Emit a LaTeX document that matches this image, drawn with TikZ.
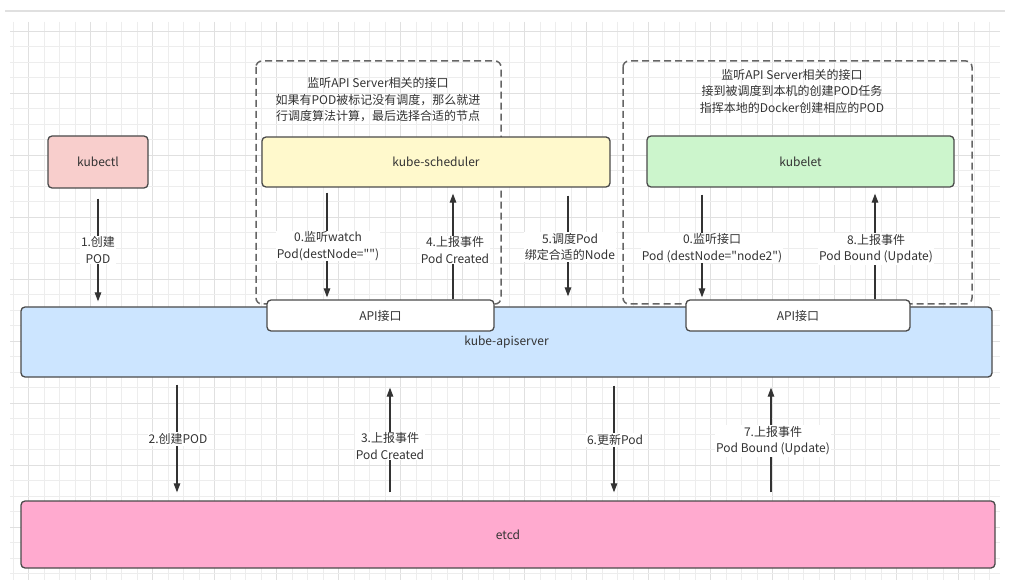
\documentclass[tikz,border=0pt]{standalone}
\usepackage{fontspec}
\setmainfont{Noto Sans CJK SC}
\newfontfamily\nqfont{Noto Sans CJK SC}
\usetikzlibrary{arrows.meta}
\definecolor{txt}{HTML}{333333}
\definecolor{edge}{HTML}{4A4A4A}
\definecolor{gridminor}{HTML}{EDEDED}
\definecolor{gridmajor}{HTML}{E0E0E0}
\definecolor{fkubectl}{HTML}{F8CECC}
\definecolor{fsched}{HTML}{FFF9CC}
\definecolor{fkubelet}{HTML}{CCF5CC}
\definecolor{fapi}{HTML}{CCE5FF}
\definecolor{fetcd}{HTML}{FFAACF}
\newcommand{\dq}{{\nqfont\symbol{34}}}
\tikzset{
  compbox/.style={draw=edge, line width=1.3pt, rounded corners=4pt, text=txt,
    font=\fontsize{12}{16}\selectfont, inner sep=0pt, anchor=center},
  grpbox/.style={draw=edge!85, line width=1.5pt, dash pattern=on 7pt off 4pt, rounded corners=6pt},
  arr/.style={draw=txt, line width=1.2pt, -{Triangle[length=9pt,width=6.5pt]}},
  lbl/.style={fill=white, text=txt, inner sep=1pt, align=center,
    font=\fontsize{12}{16.5}\selectfont},
  grptext/.style={text=txt, align=center, inner sep=0pt,
    font=\fontsize{12}{16.5}\selectfont}
}
\begin{document}
\begin{tikzpicture}[x=1pt,y=-1pt]
\useasboundingbox (0,0) rectangle (1010,588);
\fill[white] (0,0) rectangle (1010,588);
% top line
\draw[gridmajor, line width=1.5pt] (5,11) -- (1005,11);
% grid
\foreach \i in {0,...,63} {
  \pgfmathsetmacro{\gx}{13+15.5*\i}
  \pgfmathtruncatemacro{\m}{mod(\i,4)}
  \ifnum\m=1
    \draw[gridmajor, line width=0.8pt] (\gx,22) -- (\gx,580);
  \else
    \draw[gridminor, line width=0.8pt] (\gx,22) -- (\gx,580);
  \fi
}
\foreach \j in {0,...,35} {
  \pgfmathsetmacro{\gy}{31+15.5*\j}
  \pgfmathtruncatemacro{\m}{mod(\j,4)}
  \ifnum\m=0
    \draw[gridmajor, line width=0.8pt] (10,\gy) -- (1000,\gy);
  \else
    \draw[gridminor, line width=0.8pt] (10,\gy) -- (1000,\gy);
  \fi
}
% group boxes
\draw[grpbox] (256,61) rectangle (501,304);
\draw[grpbox] (623,61) rectangle (972,304);
\node[grptext] (gtl) at (378,100) {监听API Server相关的接口\\如果有POD被标记没有调度，那么就进\\行调度算法计算，最后选择合适的节点};
\node[grptext] (gtr) at (792,91) {监听API Server相关的接口\\接到被调度到本机的创建POD任务\\指挥本地的Docker创建相应的POD};
% components
\node[compbox, fill=fkubectl, minimum width=100pt, minimum height=52pt] (kubectl) at (98,162) {kubectl};
\node[compbox, fill=fsched, minimum width=348pt, minimum height=50pt] (sched) at (436,162) {kube-scheduler};
\node[compbox, fill=fkubelet, minimum width=307pt, minimum height=51pt] (kubelet) at (800.5,161.5) {kubelet};
\node[compbox, fill=fapi, minimum width=971pt, minimum height=70pt] (api) at (506.5,342) {kube-apiserver};
\node[compbox, fill=white, minimum width=227pt, minimum height=31pt] (apiL) at (380.5,315.5) {API接口};
\node[compbox, fill=white, minimum width=224pt, minimum height=31pt] (apiR) at (798,315.5) {API接口};
\node[compbox, fill=fetcd, minimum width=974pt, minimum height=67pt] (etcd) at (508,534.5) {etcd};
% arrows
\draw[arr, shorten <=10pt, shorten >=5pt] (kubectl.south) -- ([xshift=-408.5pt]api.north);
\draw[arr, shorten <=5pt, shorten >=2pt] ([xshift=-109pt]sched.south) -- ([xshift=-53.5pt]apiL.north);
\draw[arr, shorten >=6pt] ([xshift=72.5pt]apiL.north) -- ([xshift=17pt]sched.south);
\draw[arr, shorten <=8pt, shorten >=10pt] ([xshift=132pt]sched.south) -- ([xshift=61.5pt]api.north);
\draw[arr, shorten <=7pt, shorten >=2pt] ([xshift=-98.5pt]kubelet.south) -- ([xshift=-96pt]apiR.north);
\draw[arr, shorten >=6pt] ([xshift=77pt]apiR.north) -- ([xshift=74.5pt]kubelet.south);
\draw[arr, shorten <=7pt, shorten >=8pt] ([xshift=-329.5pt]api.south) -- ([xshift=-331pt]etcd.north);
\draw[arr, shorten <=8pt, shorten >=10pt] ([xshift=-118pt]etcd.north) -- ([xshift=-116.5pt]api.south);
\draw[arr, shorten <=8pt, shorten >=8pt] ([xshift=107.5pt]api.south) -- ([xshift=106pt]etcd.north);
\draw[arr, shorten <=8pt, shorten >=10pt] ([xshift=263pt]etcd.north) -- ([xshift=264.5pt]api.south);
% labels
\node[lbl] (l1) at (98,250) {1.创建\\POD};
\node[lbl] (l0s) at (328,246) {0.监听watch\\Pod(destNode=\dq\dq)};
\node[lbl] (l4) at (455,250) {4.上报事件\\Pod Created};
\node[lbl] (l5) at (570,247) {5.调度Pod\\绑定合适的Node};
\node[lbl] (l0k) at (712,248) {0.监听接口\\Pod (destNode=\dq node2\dq)};
\node[lbl] (l8) at (876,249) {8.上报事件\\Pod Bound (Update)};
\node[lbl] (l2) at (178,439) {2.创建POD};
\node[lbl] (l3) at (390,446) {3.上报事件\\Pod Created};
\node[lbl] (l6) at (615,440) {6.更新Pod};
\node[lbl] (l7) at (773,441) {7.上报事件\\Pod Bound (Update)};
\end{tikzpicture}
\end{document}
